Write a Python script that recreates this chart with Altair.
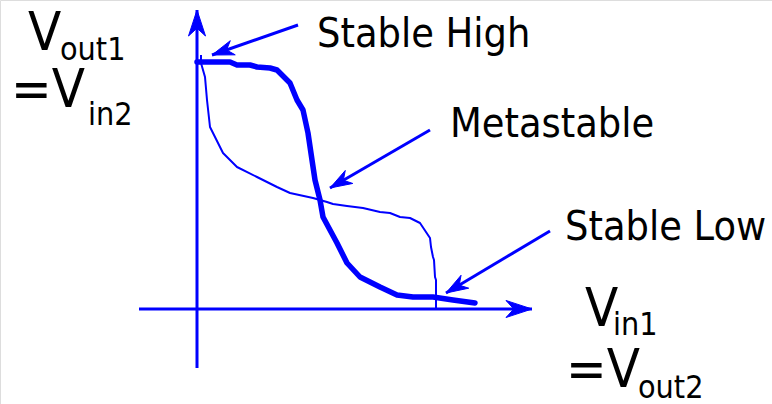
import math
import altair as alt
import pandas as pd

# Butterfly plot of two cross-coupled inverters (voltages in arbitrary units)
BLUE = "#0000ff"
FONT = "DejaVu Sans Condensed, DejaVu Sans"

# Inverter 1 transfer curve: Vout1 vs Vin1 (thick trace)
inv1_vin = [0.00, 0.33, 0.40, 0.53, 0.60, 0.73, 0.80, 0.93, 1.00, 1.06, 1.11, 1.15,
            1.18, 1.23, 1.26, 1.40, 1.50, 1.63, 1.83, 2.00, 2.16, 2.36, 2.56, 2.78]
inv1_vout = [2.47, 2.47, 2.44, 2.44, 2.42, 2.41, 2.39, 2.26, 2.09, 1.99, 1.76, 1.49,
             1.29, 1.09, 0.92, 0.66, 0.46, 0.32, 0.22, 0.14, 0.12, 0.12, 0.09, 0.06]

# Inverter 2 transfer curve, mirrored: Vout2 on x, Vin2 on y (thin trace)
inv2_vout = [0.04, 0.04, 0.08, 0.10, 0.13, 0.26, 0.40, 0.60, 0.80, 0.93, 1.16, 1.30,
             1.36, 1.50, 1.66, 1.83, 1.93, 2.03, 2.13, 2.23, 2.33, 2.34, 2.36, 2.37,
             2.38, 2.39, 2.39]
inv2_vin = [2.54, 2.46, 2.32, 2.09, 1.82, 1.56, 1.42, 1.32, 1.22, 1.16, 1.11, 1.07,
            1.05, 1.03, 1.01, 0.97, 0.96, 0.92, 0.91, 0.86, 0.71, 0.62, 0.52, 0.49,
            0.32, 0.29, 0.00]

# Arrows: name, start (x, y), tip (x, y), head length and width (px)
arrow_names = ["y_axis", "x_axis", "high", "meta", "low"]
arrow_x0 = [0.00, -0.58, 1.01, 2.33, 3.53]
arrow_y0 = [-0.59, 0.00, 2.84, 1.79, 0.78]
arrow_x1 = [0.00, 3.35, 0.15, 1.33, 2.49]
arrow_y1 = [2.99, 0.00, 2.54, 1.21, 0.16]
head_len = [26, 26, 22, 22, 22]
head_wid = [17, 17, 15, 15, 15]

# Annotation text
label_text = ["Stable High", "Metastable", "Stable Low"]
label_x = [1.20, 2.53, 3.68]
label_y = [2.62, 1.72, 0.69]

# Axis names built from a main letter plus subscript pieces
vtxt = ["V", "out1", "=V", "in2", "V", "in1", "=V", "out2"]
vtxt_x = [-1.69, -1.37, -1.86, -1.09, 3.88, 4.16, 3.69, 4.41]
vtxt_y = [2.59, 2.49, 2.02, 1.84, -0.17, -0.26, -0.78, -0.89]
vtxt_size = [54, 32, 54, 32, 54, 32, 54, 32]

X_DOMAIN = [-1.97, 5.75]
Y_DOMAIN = [-0.95, 3.09]
PX_PER_UNIT = 100.0  # 772 px over 7.72 units, 404 px over 4.04 units

xs = alt.Scale(domain=X_DOMAIN, nice=False, zero=False)
ys = alt.Scale(domain=Y_DOMAIN, nice=False, zero=False)

inv1 = pd.DataFrame({"x": inv1_vin, "y": inv1_vout, "i": range(len(inv1_vin))})
inv2 = pd.DataFrame({"x": inv2_vout, "y": inv2_vin, "i": range(len(inv2_vin))})

seg_rows = []
head_rows = []
for n, a, b, c, d, hl, hw in zip(arrow_names, arrow_x0, arrow_y0, arrow_x1,
                                 arrow_y1, head_len, head_wid):
    seg_rows.append({"seg": n, "i": 0, "x": a, "y": b})
    seg_rows.append({"seg": n, "i": 1, "x": c, "y": d})
    length = math.hypot(c - a, d - b)
    ux, uy = (c - a) / length, (d - b) / length  # unit direction towards the tip
    px, py = -uy, ux                              # unit normal
    back = hl / PX_PER_UNIT
    half = hw / 2 / PX_PER_UNIT
    notch = 0.7 * back
    # notched arrowhead outline: tip, one barb, notch, other barb, tip
    outline = [
        (c, d),
        (c - ux * back + px * half, d - uy * back + py * half),
        (c - ux * notch, d - uy * notch),
        (c - ux * back - px * half, d - uy * back - py * half),
        (c, d),
    ]
    for k, (hx, hy) in enumerate(outline):
        head_rows.append({"seg": n, "i": k, "x": hx, "y": hy})
segs = pd.DataFrame(seg_rows)
heads = pd.DataFrame(head_rows)

labels = pd.DataFrame({"t": label_text, "x": label_x, "y": label_y})
vlab = pd.DataFrame({"t": vtxt, "x": vtxt_x, "y": vtxt_y, "s": vtxt_size})


def X():
    return alt.X("x:Q", scale=xs, axis=None)


def Y():
    return alt.Y("y:Q", scale=ys, axis=None)


arrow_lines = alt.Chart(segs).mark_line(color=BLUE, strokeWidth=3).encode(
    x=X(), y=Y(), detail="seg:N", order="i:Q"
)

arrow_heads = alt.Chart(heads).mark_line(
    color=BLUE, fill=BLUE, strokeWidth=1, strokeJoin="miter"
).encode(x=X(), y=Y(), detail="seg:N", order="i:Q")

thin = alt.Chart(inv2).mark_line(color=BLUE, strokeWidth=2, strokeJoin="round").encode(
    x=X(), y=Y(), order="i:Q"
)
thick = alt.Chart(inv1).mark_line(
    color=BLUE, strokeWidth=5.5, strokeJoin="round", strokeCap="round"
).encode(x=X(), y=Y(), order="i:Q")

notes = alt.Chart(labels).mark_text(
    align="left", baseline="alphabetic", font=FONT, fontSize=41, color="black"
).encode(x=X(), y=Y(), text="t:N")

vnames = alt.Chart(vlab).mark_text(
    align="left", baseline="alphabetic", font=FONT, color="black"
).encode(x=X(), y=Y(), text="t:N", size=alt.Size("s:Q", scale=None, legend=None))

chart = alt.layer(
    arrow_lines, arrow_heads, thin, thick, notes, vnames
).properties(
    width=772, height=404, padding=0, autosize=alt.AutoSizeParams(type="none")
).configure_view(stroke=None).configure(background="white")

chart.save("out.html", embed_options={"renderer": "svg", "actions": False})
